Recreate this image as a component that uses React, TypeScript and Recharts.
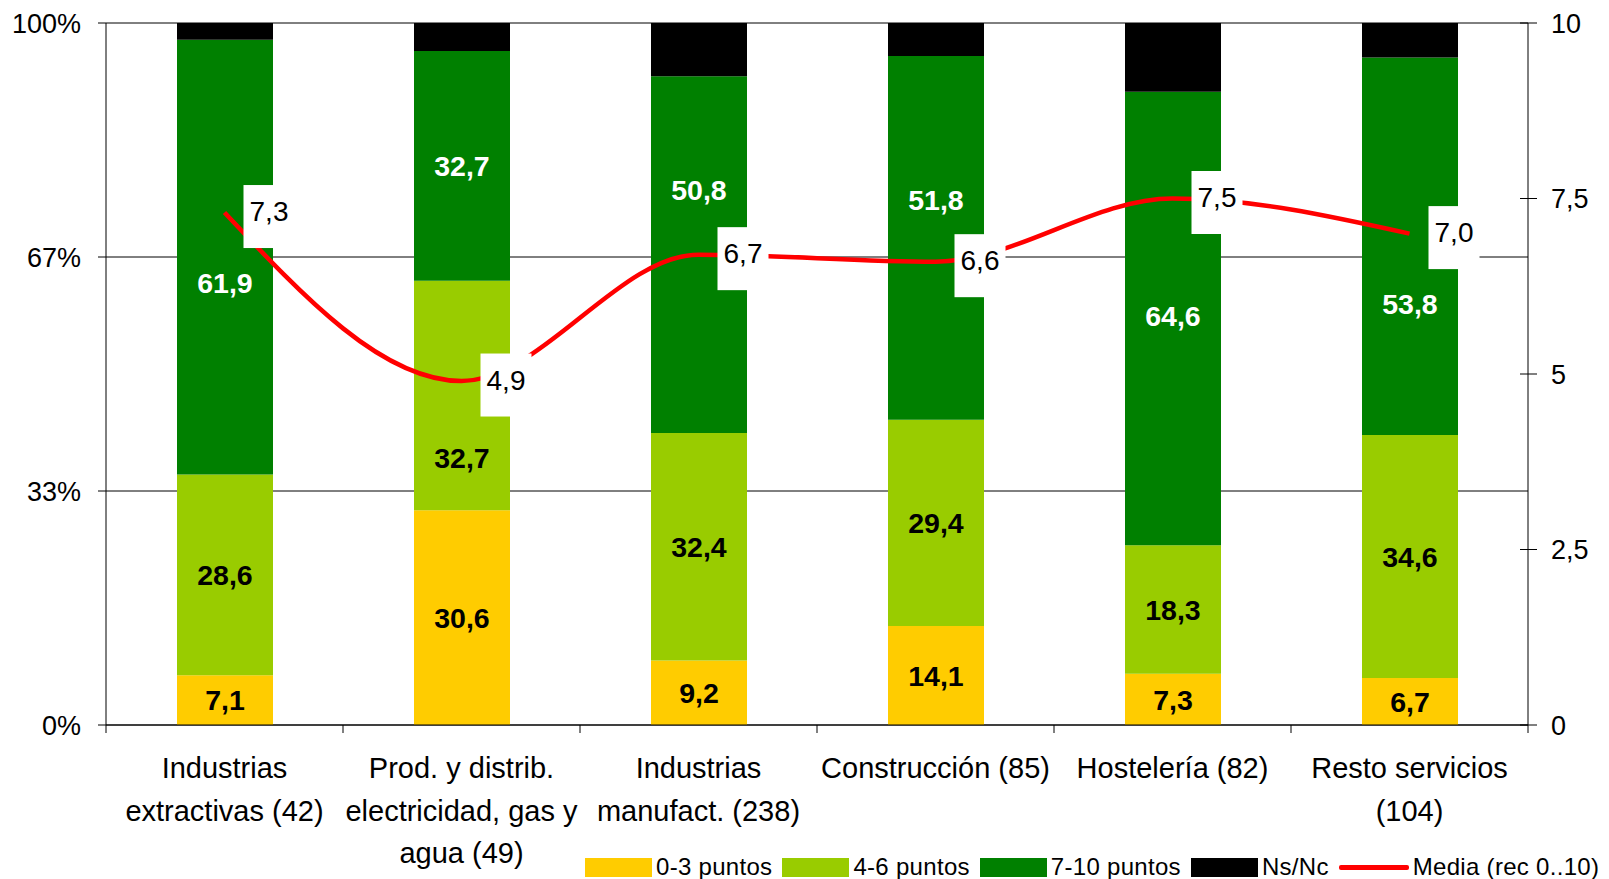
import React from "react";
import {
  ComposedChart,
  Bar,
  Line,
  XAxis,
  YAxis,
  CartesianGrid,
  Legend,
  LabelList,
} from "recharts";

// ---------- data ----------
const categories = [
  "Industrias\nextractivas (42)",
  "Prod. y distrib.\nelectricidad, gas y\nagua (49)",
  "Industrias\nmanufact. (238)",
  "Construcción (85)",
  "Hostelería (82)",
  "Resto servicios\n(104)",
];
const puntos03 = [7.1, 30.6, 9.2, 14.1, 7.3, 6.7];
const puntos46 = [28.6, 32.7, 32.4, 29.4, 18.3, 34.6];
const puntos710 = [61.9, 32.7, 50.8, 51.8, 64.6, 53.8];
const nsnc = [2.4, 4.0, 7.6, 4.7, 9.8, 4.9];
const media = [7.3, 4.9, 6.7, 6.6, 7.5, 7.0];

const pctTicks = [0, 100 / 3, 200 / 3, 100];
const avgTicks = [0, 2.5, 5, 7.5, 10];

const seriesNames = ["0-3 puntos", "4-6 puntos", "7-10 puntos", "Ns/Nc", "Media (rec 0..10)"];

// ---------- styles / layout ----------
const FONT = "'Liberation Sans', Arial, sans-serif";
const COLORS = ["#FFCC00", "#99CC00", "#008000", "#000000", "#FF0000"];
const W = 1609;
const H = 879;
const LEFT_W = 106;
const RIGHT_W = 81;
const BAND = (W - LEFT_W - RIGHT_W) / categories.length;
// manual label nudges (px), as in the original chart
const LIME_NUDGE = [0, 62, 0, 0, 0, 0];
const GREEN_NUDGE = [26, 0, -65, -38, -3, 58];

const data = categories.map((name, i) => ({
  name,
  p03: puntos03[i],
  p46: puntos46[i],
  p710: puntos710[i],
  nsnc: nsnc[i],
  media: media[i],
}));

const fmt = (v: number) => v.toFixed(1).replace(".", ",");

const makeBarLabel = (color: string, nudge?: number[]) => (props: any) => {
  const { x, y, width, height, value, index } = props;
  const dy = nudge ? nudge[index] || 0 : 0;
  return (
    <text
      x={Number(x) + Number(width) / 2}
      y={Number(y) + Number(height) / 2 + dy}
      dy="0.36em"
      textAnchor="middle"
      fill={color}
      fontSize={28.5}
      fontWeight="bold"
      fontFamily={FONT}
    >
      {fmt(Number(value))}
    </text>
  );
};

const LineLabel = (props: any) => {
  const { x, y, value } = props;
  const bx = Number(x) + 19;
  const py = Number(y);
  return (
    <g>
      <rect x={bx} y={py + 4 - 31.5} width={51} height={63} fill="#FFFFFF" />
      <text
        x={bx + 25.5}
        y={py - 1.5}
        dy="0.36em"
        textAnchor="middle"
        fill="#000"
        fontSize={28}
        fontFamily={FONT}
      >
        {fmt(Number(value))}
      </text>
    </g>
  );
};

const XTick = (props: any) => {
  const { x, y, payload, index } = props;
  const lines = String(payload.value).split("\n");
  const left = Number(x) - BAND / 2;
  const right = Number(x) + BAND / 2;
  return (
    <g>
      <line x1={left} x2={left} y1={y} y2={Number(y) + 8} stroke="#000" strokeWidth={1} />
      {index === categories.length - 1 && (
        <line x1={right} x2={right} y1={y} y2={Number(y) + 8} stroke="#000" strokeWidth={1} />
      )}
      <text textAnchor="middle" fill="#000" fontSize={29} fontFamily={FONT}>
        {lines.map((l, i) => (
          <tspan key={i} x={x} y={Number(y) + 53 + i * 42.5}>
            {l}
          </tspan>
        ))}
      </text>
    </g>
  );
};

const R_TICK = 9;
const R_MARGIN = 14;
const RightTick = (props: any) => {
  const { x, y, payload } = props;
  const ax = Number(x) - R_TICK - R_MARGIN;
  return (
    <g>
      <line x1={ax - 8} x2={ax + R_TICK} y1={y} y2={y} stroke="#000" strokeWidth={1} />
      <text x={x} y={y} dy="0.36em" textAnchor="start" fill="#000" fontSize={27} fontFamily={FONT}>
        {String(payload.value).replace(".", ",")}
      </text>
    </g>
  );
};

const LegendContent = () => (
  <div
    style={{
      display: "flex",
      alignItems: "center",
      height: 24,
      fontFamily: FONT,
      fontSize: 24,
      color: "#000",
      whiteSpace: "nowrap",
    }}
  >
    {seriesNames.map((n, i) => (
      <div key={n} style={{ display: "flex", alignItems: "center", marginRight: 10 }}>
        {i < 4 ? (
          <div style={{ width: 67, height: 19, background: COLORS[i] }} />
        ) : (
          <div style={{ width: 70, height: 5, background: COLORS[i], borderRadius: 2 }} />
        )}
        <span style={{ marginLeft: 4, letterSpacing: 0.3 }}>{n}</span>
      </div>
    ))}
  </div>
);

export default function App() {
  return (
    <div style={{ position: "absolute", left: 0, top: 0, width: W, height: H, background: "#fff", fontFamily: FONT }}>
      <ComposedChart width={W} height={H} data={data} margin={{ top: 23, right: 0, bottom: 0, left: 0 }}>
        <CartesianGrid yAxisId="pct" vertical={false} horizontal stroke="#000" strokeWidth={1} />
        <XAxis
          dataKey="name"
          height={130}
          axisLine={{ stroke: "#000" }}
          tickLine={false}
          tickSize={0}
          tickMargin={0}
          tick={<XTick />}
          interval={0}
        />
        <YAxis
          yAxisId="pct"
          width={LEFT_W}
          domain={[0, 100]}
          ticks={pctTicks}
          tickFormatter={(v: number) => `${Math.round(v)}%`}
          axisLine={{ stroke: "#000" }}
          tickLine={{ stroke: "#000" }}
          tickSize={8}
          tickMargin={17}
          tick={{ fill: "#000", fontSize: 27, fontFamily: FONT }}
          allowDataOverflow
        />
        <YAxis
          yAxisId="avg"
          orientation="right"
          width={RIGHT_W}
          domain={[0, 10]}
          ticks={avgTicks}
          axisLine={{ stroke: "#000" }}
          tickLine={false}
          tickSize={R_TICK}
          tickMargin={R_MARGIN}
          tick={<RightTick />}
        />
        <Legend
          verticalAlign="bottom"
          content={<LegendContent />}
          wrapperStyle={{ left: 585, bottom: 0, width: 1024, height: 24 }}
        />
        <Bar yAxisId="pct" dataKey="p03" name={seriesNames[0]} stackId="s" fill={COLORS[0]} barSize={96} isAnimationActive={false}>
          <LabelList dataKey="p03" content={makeBarLabel("#000")} />
        </Bar>
        <Bar yAxisId="pct" dataKey="p46" name={seriesNames[1]} stackId="s" fill={COLORS[1]} barSize={96} isAnimationActive={false}>
          <LabelList dataKey="p46" content={makeBarLabel("#000", LIME_NUDGE)} />
        </Bar>
        <Bar yAxisId="pct" dataKey="p710" name={seriesNames[2]} stackId="s" fill={COLORS[2]} barSize={96} isAnimationActive={false}>
          <LabelList dataKey="p710" content={makeBarLabel("#FFFFFF", GREEN_NUDGE)} />
        </Bar>
        <Bar yAxisId="pct" dataKey="nsnc" name={seriesNames[3]} stackId="s" fill={COLORS[3]} barSize={96} isAnimationActive={false} />
        <Line
          yAxisId="avg"
          dataKey="media"
          name={seriesNames[4]}
          type="monotone"
          stroke={COLORS[4]}
          strokeWidth={4.5}
          dot={false}
          activeDot={false}
          isAnimationActive={false}
        >
          <LabelList dataKey="media" content={<LineLabel />} />
        </Line>
      </ComposedChart>
    </div>
  );
}
